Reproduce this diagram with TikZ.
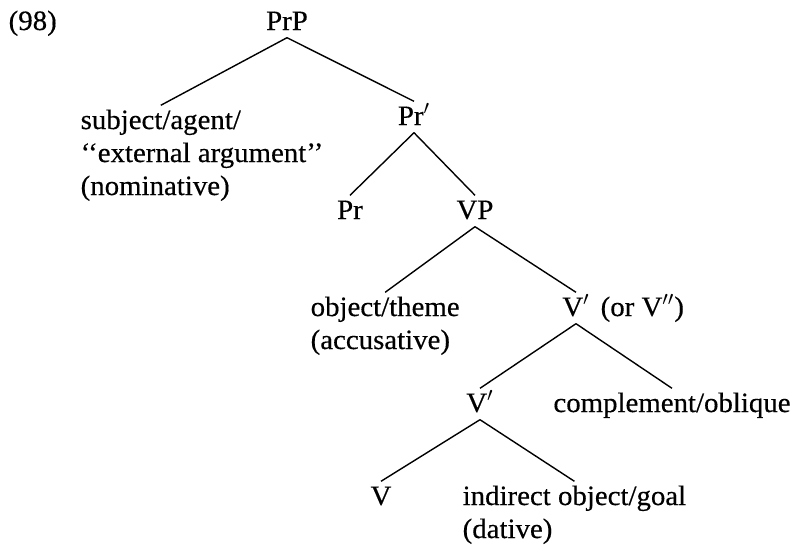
\documentclass[tikz,border=0pt]{standalone}
\usepackage{fontspec}
\setmainfont{Liberation Serif}[FakeStretch=1.03,FakeBold=0.4]

\begin{document}
\begin{tikzpicture}[x=0.5pt,y=-0.5pt,line width=0.7pt,
                    cat/.style={font=\fontsize{14}{16}\selectfont,
                                inner xsep=0pt,inner ysep=2.5pt,
                                text height=9pt,text depth=1pt,anchor=base},
                    gloss/.style={cat,anchor=base west}]
  \useasboundingbox (0,0) rectangle (794,547);
  \node[gloss] (exno) at (8,30) {(98)};
  \node[cat] (prp) at (287,30) {PrP};
  % the role labels run over several lines; the branch meets the first one
  \node[gloss] (subj) at (80,129) {subject/agent/};
  \node[gloss] (subjext) at (80,162) {‘‘external argument’’};
  \node[gloss] (subjcase) at (80,195) {(nominative)};
  \node[cat] (prbar) at (414,125) {Pr$'$};
  \node[cat] (pr) at (350,219) {Pr};
  \node[cat] (vp) at (475,219) {VP};
  \node[gloss] (obj) at (310,316) {object/theme};
  \node[gloss] (objcase) at (310,349) {(accusative)};
  \node[cat] (vbarr) at (576,316) {V$'$};
  \node[gloss] (vbaror) at (600,316) {(or V$''$)};
  \node[cat] (vbar) at (480,412) {V$'$};
  \node[cat] (compl) at (672,412) {complement/oblique};
  \node[cat] (v) at (381,505) {V};
  \node[gloss] (iobj) at (462,505) {indirect object/goal};
  \node[gloss] (iobjcase) at (462,538) {(dative)};

  \draw (prp.south) -- (subj.north);
  \draw (prp.south) -- (prbar.north);
  \draw (prbar.south) -- (pr.north);
  \draw (prbar.south) -- (vp.north);
  \draw (vp.south) -- (obj.north);
  \draw (vp.south) -- (vbarr.north);
  \draw (vbarr.south) -- (vbar.north);
  \draw (vbarr.south) -- (compl.north);
  \draw (vbar.south) -- (v.north);
  \draw (vbar.south) -- (iobj.north);
\end{tikzpicture}
\end{document}
